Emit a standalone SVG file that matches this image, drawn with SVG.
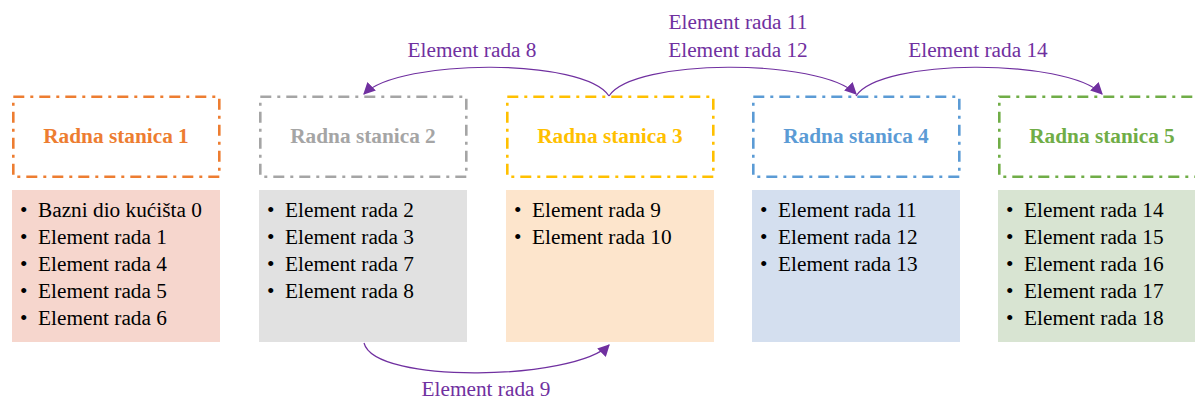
<svg xmlns="http://www.w3.org/2000/svg" width="1195" height="401" viewBox="0 0 1195 401">
<defs>
<marker id="ah" viewBox="0 0 10 10" refX="9" refY="5" markerWidth="12" markerHeight="12" markerUnits="userSpaceOnUse" orient="auto">
<path d="M0,0 L10,5 L0,10 Z" fill="#7030A0"/>
</marker>
<style>
.hdr{fill:#fff;stroke-width:2.6;stroke-dasharray:11 6 3 6}
.ht{font-family:"Liberation Serif","Times New Roman",serif;font-weight:bold;font-size:21.3px;text-anchor:middle}
.bt{font-family:"Liberation Serif","Times New Roman",serif;font-size:21.3px;fill:#000}
.lbl{font-family:"Liberation Serif","Times New Roman",serif;font-size:21.3px;fill:#7030A0;text-anchor:middle}
.con{fill:none;stroke:#7030A0;stroke-width:1.2;marker-end:url(#ah)}
</style>
</defs>
<rect width="1195" height="401" fill="#fff"/>

<g id="node1">
<rect class="hdr" x="13.3" y="96.8" width="206" height="80" stroke="#ED7D31"/>
<text class="ht" x="116" y="143" fill="#ED7D31">Radna stanica 1</text>
<rect x="12" y="190" width="208" height="152" fill="#F6D6CD"/>
<text class="bt"><tspan x="20" y="217">•</tspan><tspan x="38" y="217">Bazni dio kućišta 0</tspan>
<tspan x="20" y="244">•</tspan><tspan x="38" y="244">Element rada 1</tspan>
<tspan x="20" y="271">•</tspan><tspan x="38" y="271">Element rada 4</tspan>
<tspan x="20" y="298">•</tspan><tspan x="38" y="298">Element rada 5</tspan>
<tspan x="20" y="325">•</tspan><tspan x="38" y="325">Element rada 6</tspan></text>
</g>

<g id="node2">
<rect class="hdr" x="260.3" y="96.8" width="206" height="80" stroke="#A5A5A5"/>
<text class="ht" x="363" y="143" fill="#A5A5A5">Radna stanica 2</text>
<rect x="259" y="190" width="208" height="152" fill="#E1E1E1"/>
<text class="bt"><tspan x="267" y="217">•</tspan><tspan x="285" y="217">Element rada 2</tspan>
<tspan x="267" y="244">•</tspan><tspan x="285" y="244">Element rada 3</tspan>
<tspan x="267" y="271">•</tspan><tspan x="285" y="271">Element rada 7</tspan>
<tspan x="267" y="298">•</tspan><tspan x="285" y="298">Element rada 8</tspan></text>
</g>

<g id="node3">
<rect class="hdr" x="507.3" y="96.8" width="206" height="80" stroke="#FFC000"/>
<text class="ht" x="610" y="143" fill="#FFC000">Radna stanica 3</text>
<rect x="506" y="190" width="208" height="152" fill="#FDE5CC"/>
<text class="bt"><tspan x="514" y="217">•</tspan><tspan x="532" y="217">Element rada 9</tspan>
<tspan x="514" y="244">•</tspan><tspan x="532" y="244">Element rada 10</tspan></text>
</g>

<g id="node4">
<rect class="hdr" x="753.3" y="96.8" width="206" height="80" stroke="#5B9BD5"/>
<text class="ht" x="856" y="143" fill="#5B9BD5">Radna stanica 4</text>
<rect x="752" y="190" width="208" height="152" fill="#D4DFEF"/>
<text class="bt"><tspan x="760" y="217">•</tspan><tspan x="778" y="217">Element rada 11</tspan>
<tspan x="760" y="244">•</tspan><tspan x="778" y="244">Element rada 12</tspan>
<tspan x="760" y="271">•</tspan><tspan x="778" y="271">Element rada 13</tspan></text>
</g>

<g id="node5">
<rect class="hdr" x="999.3" y="96.8" width="206" height="80" stroke="#70AD47"/>
<text class="ht" x="1102" y="143" fill="#70AD47">Radna stanica 5</text>
<rect x="998" y="190" width="208" height="152" fill="#D8E4D2"/>
<text class="bt"><tspan x="1006" y="217">•</tspan><tspan x="1024" y="217">Element rada 14</tspan>
<tspan x="1006" y="244">•</tspan><tspan x="1024" y="244">Element rada 15</tspan>
<tspan x="1006" y="271">•</tspan><tspan x="1024" y="271">Element rada 16</tspan>
<tspan x="1006" y="298">•</tspan><tspan x="1024" y="298">Element rada 17</tspan>
<tspan x="1006" y="325">•</tspan><tspan x="1024" y="325">Element rada 18</tspan></text>
</g>

<g id="connectors">
<path class="con" d="M609,96 C585,58 400,58 364,94"/>
<path class="con" d="M609,96 C633,58 820,58 856,94"/>
<path class="con" d="M856,96 C880,58 1066,58 1102,94"/>
<path class="con" d="M364,343 C375,385 575,380 609,345"/>
<text class="lbl" x="472" y="57">Element rada 8</text>
<text class="lbl" x="738" y="29">Element rada 11</text>
<text class="lbl" x="738" y="57">Element rada 12</text>
<text class="lbl" x="978" y="57">Element rada 14</text>
<text class="lbl" x="486" y="396">Element rada 9</text>
</g>
</svg>
